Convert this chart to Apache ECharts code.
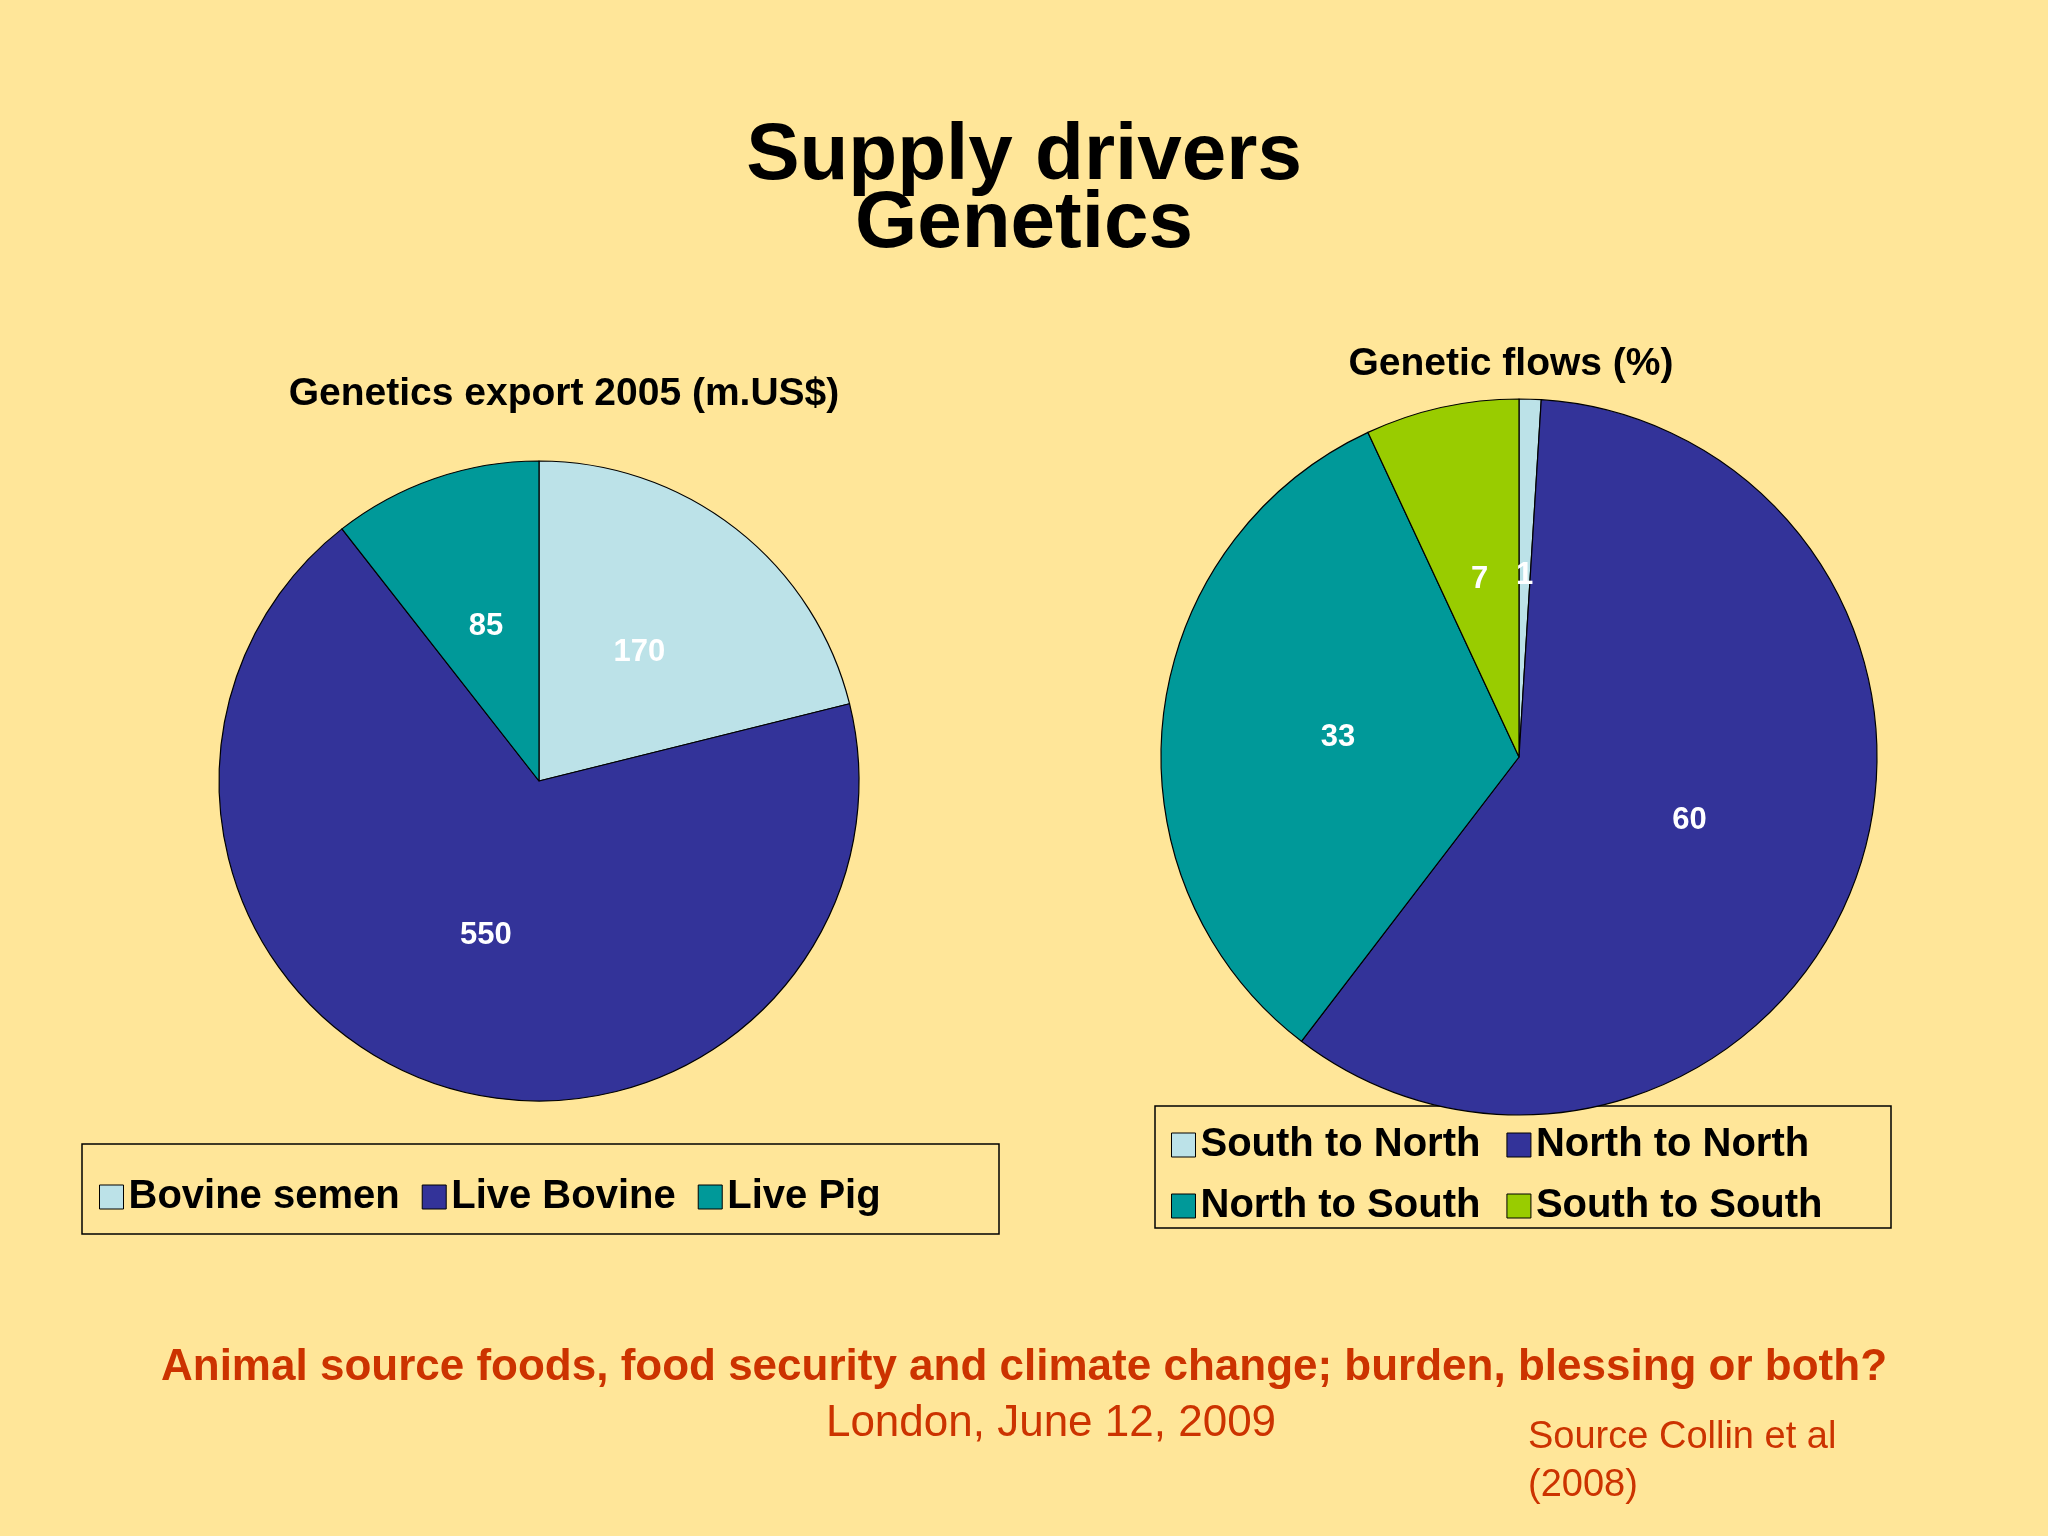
<!DOCTYPE html><html><head><meta charset="utf-8">
<script src="https://cdn.jsdelivr.net/npm/echarts@6/dist/echarts.min.js"></script>
<style>html,body{margin:0;padding:0;background:#FFE699}#c{width:2048px;height:1536px}</style></head><body><div id="c"></div>
<script>
const exportCats=['Bovine semen','Live Bovine','Live Pig'];
const exportVals=[170,550,85];
const flowCats=['South to North','North to North','North to South','South to South'];
const flowVals=[1,60,33,7];
const colors1=['#BCE2E8','#333399','#009999'];
const colors2=['#BCE2E8','#333399','#009999','#99CC00'];
const F='Arial, "Liberation Sans", sans-serif';
const chart=echarts.init(document.getElementById('c'));
const lblStyle={show:true,position:'inside',color:'#fff',fontWeight:'bold',fontSize:31,fontFamily:F,formatter:'{c}'};
const legBase={itemWidth:24,itemHeight:24,itemGap:22,textStyle:{fontSize:40,fontWeight:'bold',fontFamily:F,color:'#000'},selectedMode:false,icon:'rect',itemStyle:{borderColor:'#000',borderWidth:1}};
chart.setOption({
 backgroundColor:'#FFE699',
 title:[
  {text:'Supply drivers',left:'center',top:112,textStyle:{fontSize:80,fontWeight:'bold',fontFamily:F,color:'#000'}},
  {text:'Genetics',left:'center',top:180,textStyle:{fontSize:80,fontWeight:'bold',fontFamily:F,color:'#000'}},
  {text:'Genetics export 2005 (m.US$)',left:559,textAlign:'center',top:370,textStyle:{fontSize:39,fontWeight:'bold',fontFamily:F,color:'#000'}},
  {text:'Genetic flows (%)',left:1506,textAlign:'center',top:340,textStyle:{fontSize:39,fontWeight:'bold',fontFamily:F,color:'#000'}}
 ],
 legend:[
  Object.assign({},legBase,{data:exportCats,left:94,top:1172,itemGap:22}),
  Object.assign({},legBase,{data:flowCats.slice(0,2),left:1166,top:1120,itemGap:26}),
  Object.assign({},legBase,{data:flowCats.slice(2),left:1166,top:1181,itemGap:26})
 ],
 series:[
  {type:'pie',center:[539,781],radius:[0,320],startAngle:90,clockwise:true,color:colors1,
   data:exportCats.map((n,i)=>({name:n,value:exportVals[i]})),label:lblStyle,labelLine:{show:false},
   itemStyle:{borderColor:'#000',borderWidth:1.2},emphasis:{disabled:true}},
  {type:'pie',center:[1519,757],radius:[0,358],startAngle:90,clockwise:true,color:colors2,
   data:flowCats.map((n,i)=>({name:n,value:flowVals[i]})),label:lblStyle,labelLine:{show:false},
   itemStyle:{borderColor:'#000',borderWidth:1.2},emphasis:{disabled:true}}
 ],
 graphic:[
  {type:'rect',shape:{x:82,y:1144,width:917,height:90},style:{fill:'none',stroke:'#000',lineWidth:1.5}},
  {type:'rect',shape:{x:1155,y:1106,width:736,height:122},style:{fill:'none',stroke:'#000',lineWidth:1.5}},
  {type:'text',left:'center',top:1346,style:{text:'Animal source foods, food security and climate change; burden, blessing or both?',font:'bold 44px '+F,fill:'#CC3300'}},
  {type:'text',x:1051,y:1402,style:{text:'London, June 12, 2009',font:'44px '+F,fill:'#CC3300',textAlign:'center'}},
  {type:'text',x:1528,y:1414,style:{text:'Source Collin et al\n(2008)',font:'38px '+F,fill:'#CC3300',lineHeight:48}}
 ]
});
</script></body></html>
